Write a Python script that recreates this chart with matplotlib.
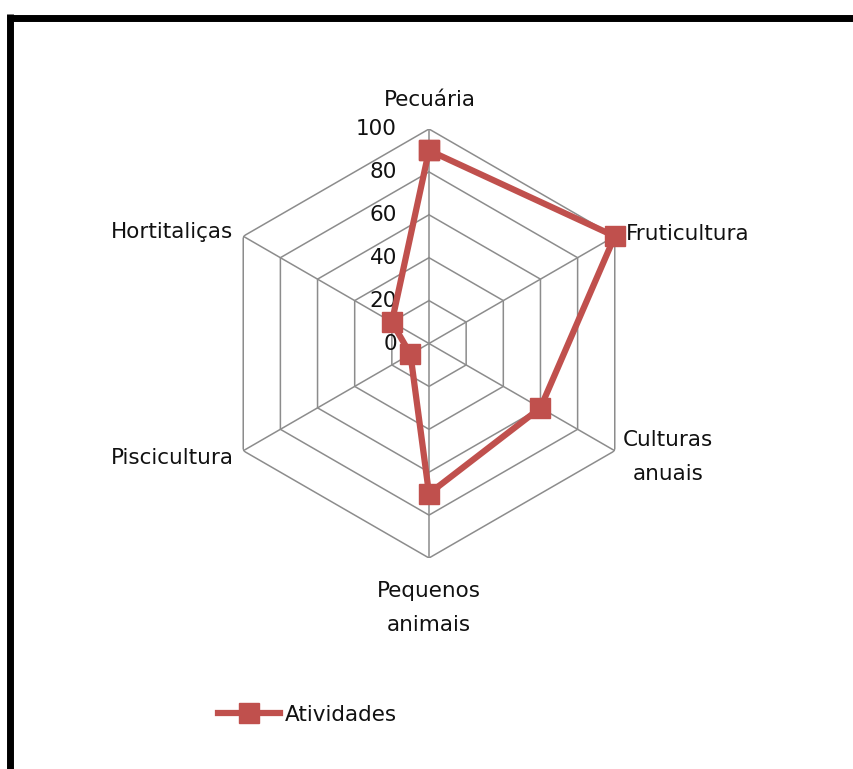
import numpy as np
import matplotlib
matplotlib.use("Agg")
import matplotlib.pyplot as plt
from matplotlib.lines import Line2D
from matplotlib.transforms import offset_copy

categories = ["Pecuária", "Fruticultura", "Culturas\nanuais", "Pequenos\nanimais", "Piscicultura", "Hortitaliças"]
values = [90, 100, 60, 70, 10, 20]
series_name = "Atividades"
levels = [0, 20, 40, 60, 80, 100]

W, H = 854, 769
DPI = 100
FS = 15.5
RED = "#C0504D"
GRID = "#8c8c8c"
TXT = "#111111"

plt.rcParams['font.family'] = ['DejaVu Sans']
fig = plt.figure(figsize=(W / DPI, H / DPI), dpi=DPI)

cx, cy, R = 429, 343.5, 214.5
ax = fig.add_axes([(cx - R) / W, (H - cy - R) / H, 2 * R / W, 2 * R / H], projection='polar')
ax.set_theta_zero_location('N')
ax.set_theta_direction(-1)
ax.set_ylim(0, 100)
ax.set_xticks([])
ax.set_yticks([])
ax.grid(False)
ax.spines['polar'].set_visible(False)
ax.patch.set_alpha(0)

n = len(categories)
theta = np.arange(n) * 2 * np.pi / n
theta_c = np.append(theta, theta[0])

for lv in levels[1:]:
    ax.plot(theta_c, [lv] * (n + 1), color=GRID, lw=1.1, zorder=1)
for t in theta:
    ax.plot([t, t], [0, levels[-1]], color=GRID, lw=1.1, zorder=1)

vals_c = values + values[:1]
ax.plot(theta_c, vals_c, color=RED, lw=4.5, marker='s', ms=14, mfc=RED, mec=RED,
        zorder=3, label=series_name, clip_on=False)

# radial tick labels to the left of the top spoke
trans = offset_copy(ax.transData, fig=fig, x=-0.32, y=0, units='inches')
for lv in levels:
    ax.text(0, lv, str(lv), transform=trans, ha='right', va='center', fontsize=FS,
            color=TXT, zorder=2)

# category labels
label_pos = [
    (430, 100, 'center'),
    (626, 234, 'left'),
    (668, 457, 'center'),
    (429, 608, 'center'),
    (234, 458, 'right'),
    (233, 232, 'right'),
]
for lab, (x, y, ha) in zip(categories, label_pos):
    fig.text(x / W, 1 - y / H, lab, ha=ha, va='center', fontsize=FS, linespacing=1.85,
             color=TXT, multialignment='center')

leg = fig.legend(loc='center left', bbox_to_anchor=(218 / W, 1 - 715 / H), frameon=False,
                 fontsize=FS, handlelength=2.9, handletextpad=0.2, borderpad=0, borderaxespad=0,
                 labelcolor=TXT)

# border (top and left edges of chart area)
fig.add_artist(Line2D([7 / W, 1.0], [1 - 17.5 / H, 1 - 17.5 / H], transform=fig.transFigure,
                      color='black', lw=5, solid_capstyle='butt'))
fig.add_artist(Line2D([10.5 / W, 10.5 / W], [1 - 14 / H, 0.0], transform=fig.transFigure,
                      color='black', lw=5, solid_capstyle='butt'))

fig.savefig("out.png", dpi=DPI, facecolor='white')
